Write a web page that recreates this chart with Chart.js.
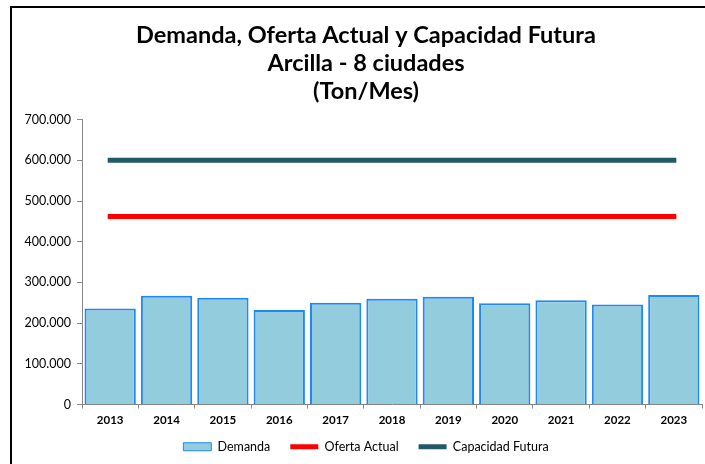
<!DOCTYPE html>
<html>
<head>
<meta charset="utf-8">
<script src="https://cdn.jsdelivr.net/npm/chart.js@4"></script>
<style>
  html, body { margin: 0; padding: 0; background: #fff; }
  #wrap { position: relative; width: 705px; height: 464px; }
</style>
</head>
<body>
<div id="wrap"><canvas id="chart" width="705" height="464"></canvas></div>
<script>
// data
const years = ['2013', '2014', '2015', '2016', '2017', '2018', '2019', '2020', '2021', '2022', '2023'];
const demanda = [236000, 267000, 262000, 232000, 250000, 260000, 265000, 249000, 256000, 246000, 269000];
const ofertaActual = [462000, 462000, 462000, 462000, 462000, 462000, 462000, 462000, 462000, 462000, 462000];
const capacidadFutura = [600000, 600000, 600000, 600000, 600000, 600000, 600000, 600000, 600000, 600000, 600000];
const titleLines = ['Demanda, Oferta Actual y Capacidad Futura', 'Arcilla - 8 ciudades', '(Ton/Mes)'];

// white background plus the outer frame
const framePlugin = {
    id: 'frame',
    beforeDraw(chart) {
        const ctx = chart.ctx;
        ctx.save();
        ctx.fillStyle = '#ffffff';
        ctx.fillRect(0, 0, chart.width, chart.height);
        ctx.strokeStyle = '#000000';
        ctx.lineWidth = 2;
        ctx.strokeRect(11, 7, chart.width + 20, chart.height + 20);
        ctx.restore();
    }
};

// title and legend sit a bit right of the canvas centre in the original.
// legend items are spaced wider than its vertical padding allows, so the
// padding is raised after the layout is done and the box moved back
const shiftPlugin = {
    id: 'shift',
    afterLayout(chart) {
        chart.titleBlock.left += 20;
        chart.legend.options.labels.padding = 20;
        chart.legend.left -= 10;
        chart.legend.top -= 10;
    }
};

function formatTick(value) {
    return value.toString().replace(/\B(?=(\d{3})+(?!\d))/g, '.');
}

var ctx = document.getElementById('chart').getContext('2d');
var chart = new Chart(ctx, {
    type: 'bar',
    data: {
        labels: years,
        datasets: [{
            type: 'line',
            label: 'Capacidad Futura',
            data: capacidadFutura,
            borderColor: '#215968',
            backgroundColor: '#215968',
            borderWidth: 5,
            borderCapStyle: 'square',
            pointRadius: 0,
            order: 1
        }, {
            type: 'line',
            label: 'Oferta Actual',
            data: ofertaActual,
            borderColor: '#ff0000',
            backgroundColor: '#ff0000',
            borderWidth: 5,
            borderCapStyle: 'square',
            pointRadius: 0,
            order: 1
        }, {
            label: 'Demanda',
            data: demanda,
            backgroundColor: '#93cddd',
            borderColor: '#1e88f5',
            borderWidth: 2,
            barPercentage: 0.91,
            categoryPercentage: 1,
            order: 2
        }]
    },
    options: {
        responsive: false,
        animation: false,
        layout: { padding: { left: 10, right: 3, top: 0, bottom: 1 } },
        plugins: {
            title: {
                display: true,
                text: titleLines,
                color: '#000',
                font: { family: 'Lato', size: 23.5, weight: 'bold', lineHeight: 1.2 },
                padding: { top: 21, bottom: 14 }
            },
            legend: {
                position: 'bottom',
                labels: {
                    color: '#000',
                    font: { family: 'Lato', size: 12.5 },
                    usePointStyle: true,
                    pointStyleWidth: 28,
                    boxHeight: 8,
                    padding: 10,
                    generateLabels(chart) {
                        const order = [2, 1, 0];
                        return order.map(i => {
                            const ds = chart.data.datasets[i];
                            const isLine = ds.type === 'line';
                            return {
                                text: ds.label,
                                datasetIndex: i,
                                fillStyle: ds.backgroundColor,
                                strokeStyle: ds.borderColor,
                                lineWidth: isLine ? 5 : 1,
                                pointStyle: isLine ? 'line' : 'rect',
                                fontColor: '#000'
                            };
                        });
                    }
                }
            },
            tooltip: { enabled: false }
        },
        scales: {
            x: {
                offset: true,
                afterFit(scale) { scale.height = 26; },
                grid: { offset: true, drawOnChartArea: false, drawTicks: true, tickLength: 4, color: '#868686' },
                border: { color: '#868686', width: 1 },
                ticks: { color: '#000', font: { family: 'Lato', size: 11.5, weight: 'bold' }, padding: 5 }
            },
            y: {
                min: 0,
                max: 700000,
                afterFit(scale) { scale.width = 72; },
                grid: { drawOnChartArea: false, drawTicks: true, tickLength: 5, color: '#868686' },
                border: { color: '#868686', width: 1 },
                ticks: {
                    stepSize: 100000,
                    color: '#000',
                    font: { family: 'Lato', size: 12.5 },
                    padding: 6,
                    callback: formatTick
                }
            }
        }
    },
    plugins: [framePlugin, shiftPlugin]
});
</script>
</body>
</html>
